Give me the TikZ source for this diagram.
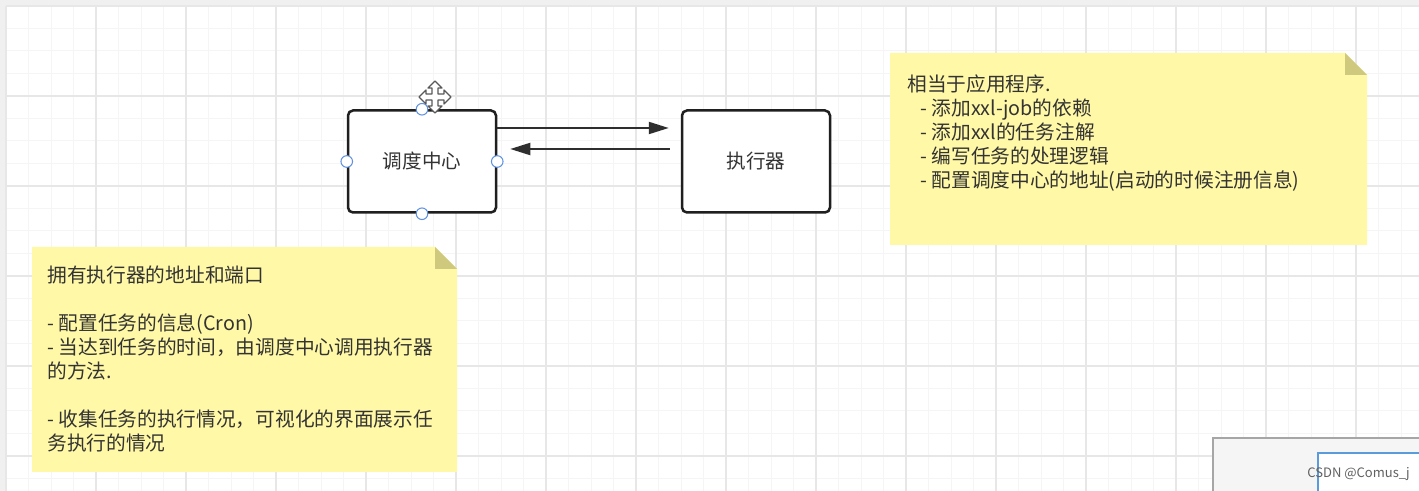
\documentclass[tikz,border=0pt]{standalone}
\usepackage{fontspec}
\setmainfont{Noto Sans CJK SC}
\usetikzlibrary{arrows.meta}
\definecolor{notefill}{RGB}{255,248,166}
\definecolor{notefold}{RGB}{206,201,124}
\definecolor{gridminor}{RGB}{245,245,245}
\definecolor{gridmajor}{RGB}{231,231,231}
\definecolor{handle}{RGB}{95,145,225}
\definecolor{inktext}{RGB}{51,51,51}
\definecolor{panelblue}{RGB}{90,155,220}
\tikzset{
	box/.style={draw=black!88,line width=1.25pt,rounded corners=2.5pt,fill=white,minimum width=74pt,minimum height=51pt,font=\fontsize{9.8}{12}\selectfont,text=inktext},
	link/.style={line width=1pt,draw=black!82,-{Triangle[length=10pt,width=6pt]}},
	handlept/.style={circle,draw=handle,fill=white,line width=0.5pt,minimum size=5.8pt,inner sep=0pt},
	notetext/.style={anchor=north west,align=left,inner sep=0pt,text=inktext,font=\fontsize{9.85}{12}\selectfont},
}

\begin{document}
\begin{tikzpicture}[x=0.5pt,y=-0.5pt]
			\useasboundingbox (0,0) rectangle (1419,491);
			\fill[black!6] (0,0) rectangle (1419,491);
			\fill[white] (6,6) rectangle (1419,491);
			\foreach \k in {0,...,62}
				\draw[gridminor,line width=0.5pt] (6+22.5*\k,6) -- (6+22.5*\k,491);
			\foreach \k in {0,...,21}
				\draw[gridminor,line width=0.5pt] (6,6+22.5*\k) -- (1419,6+22.5*\k);
			\foreach \k in {0,...,15}
				\draw[gridmajor,line width=0.6pt] (6+90*\k,6) -- (6+90*\k,491);
			\foreach \k in {0,...,5}
				\draw[gridmajor,line width=0.6pt] (6,6+90*\k) -- (1419,6+90*\k);

			\node[box] (sched) at (422,161.5) {调度中心};
			\node[box] (exec) at (756,161.5) {执行器};
			\draw[link,shorten >=6pt] ([yshift=16.75pt]sched.east) -- ([yshift=16.75pt]exec.west);
			\draw[link,shorten <=5.5pt,shorten >=6.5pt] ([yshift=6.25pt]exec.west) -- ([yshift=6.25pt]sched.east);
			\foreach \a in {north,south,east,west}
				\node[handlept] (h-\a) at (sched.\a) {};

			\fill[notefill] (890,53) -- (1345,53) -- (1367,75) -- (1367,245) -- (890,245) -- cycle;
			\fill[notefold] (1345,53) -- (1345,75) -- (1367,75) -- cycle;
			\node[notetext] (appnote) at (907,74) {相当于应用程序.\\
				\hspace*{6.5pt}- 添加xxl-job的依赖\\
				\hspace*{6.5pt}- 添加xxl的任务注解\\
				\hspace*{6.5pt}- 编写任务的处理逻辑\\
				\hspace*{6.5pt}- 配置调度中心的地址(启动的时候注册信息)};

			\fill[notefill] (32,247) -- (435,247) -- (457,269) -- (457,472) -- (32,472) -- cycle;
			\fill[notefold] (435,247) -- (435,269) -- (457,269) -- cycle;
			\node[notetext] (schednote) at (47,265) {拥有执行器的地址和端口\\[12pt]
				- 配置任务的信息(Cron)\\
				- 当达到任务的时间，由调度中心调用执行器\\
				的方法.\\[12pt]
				- 收集任务的执行情况，可视化的界面展示任\\
				务执行的情况};

			\draw[fill=black!4,draw=black!35,line width=0.6pt] (1213,438) rectangle (1425,497);
			\draw[fill=white,draw=panelblue,line width=1.2pt] (1318,453) rectangle (1425,497);
			\node[anchor=west,inner sep=0pt,text=black!62,font=\fontsize{6.5}{8}\selectfont] (mark) at (1307,474) {CSDN @Comus\_j};

			\begin{scope}[shift={(435,97)}]
				\draw[fill=white,draw=black!65,line width=0.6pt,line join=round]
					(0,-16) -- (7,-9) -- (3,-9) -- (3,-3) -- (9,-3) -- (9,-7) -- (16,0) -- (9,7) -- (9,3) -- (3,3) -- (3,9) -- (7,9)
					-- (0,16) -- (-7,9) -- (-3,9) -- (-3,3) -- (-9,3) -- (-9,7) -- (-16,0) -- (-9,-7) -- (-9,-3) -- (-3,-3) -- (-3,-9) -- (-7,-9) -- cycle;
			\end{scope}
		\end{tikzpicture}
\end{document}
